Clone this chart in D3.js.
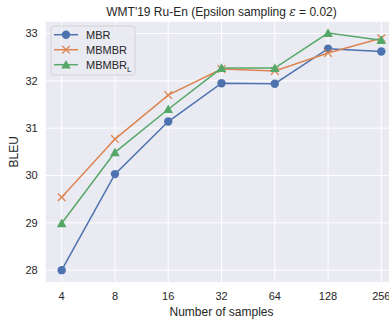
<!DOCTYPE html>
<html><head><meta charset="utf-8">
<script src="https://cdn.jsdelivr.net/npm/d3@7"></script>
<style>body{margin:0;background:#fff;} text{font-family:"Liberation Sans",Arial,sans-serif;fill:#262626;}</style>
</head><body>
<svg id="c" width="389" height="322"></svg>
<script>
const categories = ["4","8","16","32","64","128","256"];
const mbr = [28.00, 30.03, 31.14, 31.95, 31.94, 32.68, 32.62];
const mbmbr = [29.54, 30.77, 31.70, 32.25, 32.21, 32.59, 32.90];
const mbmbrL = [28.99, 30.49, 31.40, 32.27, 32.27, 33.01, 32.86];
const yTicks = [28, 29, 30, 31, 32, 33];

const series = [
  {name:"MBR", values:mbr, color:"#4c72b0", marker:"circle"},
  {name:"MBMBR", values:mbmbr, color:"#dd8452", marker:"x"},
  {name:"MBMBR", sub:"L", values:mbmbrL, color:"#55a868", marker:"triangle"}
];

const svg = d3.select("#c");
const L = 45.7, R = 397.3, T = 21.7, B = 282;
const x = d3.scaleLinear().domain([-0.3, 6.3]).range([L, R]);
const y = d3.scaleLinear().domain([27.75, 33.25]).range([B, T]);

svg.append("rect").attr("x", L).attr("y", T).attr("width", R - L).attr("height", B - T).attr("fill", "#eaeaf2");

const g = svg.append("g");
categories.forEach((c, i) => {
  g.append("line").attr("x1", x(i)).attr("x2", x(i)).attr("y1", T).attr("y2", B).attr("stroke", "#fff").attr("stroke-width", 1);
  g.append("text").attr("x", x(i)).attr("y", B + 18).attr("text-anchor", "middle").attr("font-size", 11).text(c);
});
yTicks.forEach(t => {
  g.append("line").attr("x1", L).attr("x2", R).attr("y1", y(t)).attr("y2", y(t)).attr("stroke", "#fff").attr("stroke-width", 1);
  g.append("text").attr("x", L - 8).attr("y", y(t)).attr("dy", "0.35em").attr("text-anchor", "end").attr("font-size", 11).text(t);
});

const line = d3.line().x((d, i) => x(i)).y(d => y(d));
function drawMarker(sel, type, color, cx, cy) {
  if (type === "circle") {
    sel.append("circle").attr("cx", cx).attr("cy", cy).attr("r", 4.2).attr("fill", color);
  } else if (type === "x") {
    const s = 3.8;
    sel.append("path").attr("d", `M${cx-s},${cy-s}L${cx+s},${cy+s}M${cx-s},${cy+s}L${cx+s},${cy-s}`)
      .attr("stroke", color).attr("stroke-width", 1.3).attr("fill", "none");
  } else {
    const s = 4.8;
    sel.append("path").attr("d", `M${cx},${cy-s}L${cx+s},${cy+s*0.8}L${cx-s},${cy+s*0.8}Z`).attr("fill", color);
  }
}
series.forEach(s => {
  svg.append("path").datum(s.values).attr("d", line).attr("fill", "none").attr("stroke", s.color).attr("stroke-width", 1.5);
  s.values.forEach((v, i) => drawMarker(svg, s.marker, s.color, x(i), y(v)));
});

// Title
const title = svg.append("text").attr("x", (L + R) / 2).attr("y", 16).attr("text-anchor", "middle").attr("font-size", 12);
title.append("tspan").text("WMT'19 Ru-En (Epsilon sampling ");
title.append("tspan").attr("font-style", "italic").attr("font-family", "DejaVu Serif, serif").text("ε");
title.append("tspan").text(" = 0.02)");

svg.append("text").attr("x", (L + R) / 2).attr("y", 316).attr("text-anchor", "middle").attr("font-size", 12).text("Number of samples");
svg.append("text").attr("transform", `translate(18,${(T + B) / 2}) rotate(-90)`).attr("text-anchor", "middle").attr("font-size", 12).text("BLEU");

// Legend
const lg = svg.append("g");
lg.append("rect").attr("x", 51).attr("y", 26).attr("width", 84).attr("height", 49).attr("rx", 2.5)
  .attr("fill", "#eaeaf2").attr("fill-opacity", 0.8).attr("stroke", "#cccccc").attr("stroke-width", 0.8);
series.forEach((s, i) => {
  const ly = 34.7 + i * 15;
  lg.append("line").attr("x1", 54).attr("x2", 78).attr("y1", ly).attr("y2", ly).attr("stroke", s.color).attr("stroke-width", 1.5);
  drawMarker(lg, s.marker, s.color, 66, ly);
  const t = lg.append("text").attr("x", 86).attr("y", ly).attr("dy", "0.35em").attr("font-size", 11).text(s.name);
  if (s.sub) t.append("tspan").attr("font-size", 8).attr("dy", 3).text(s.sub);
});
</script>
</body></html>
